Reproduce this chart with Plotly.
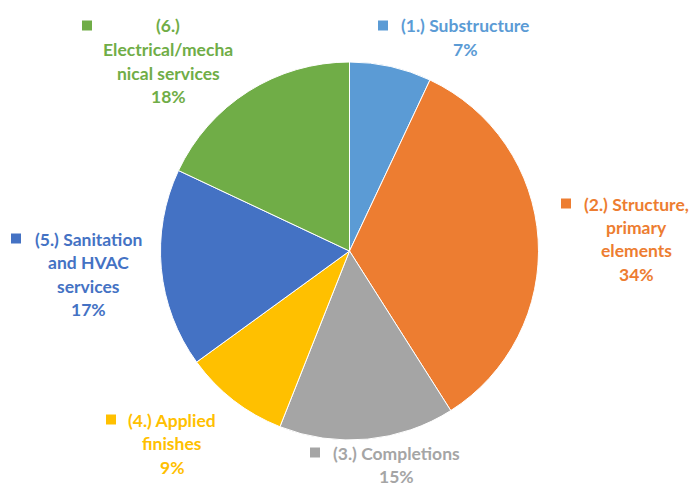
import plotly.graph_objects as go

# Cost share of building elements
categories = [
    "(1.) Substructure",
    "(2.) Structure, primary elements",
    "(3.) Completions",
    "(4.) Applied finishes",
    "(5.) Sanitation and HVAC services",
    "(6.) Electrical/mechanical services",
]
values = [7, 34, 15, 9, 17, 18]
colors = ["#5B9BD5", "#ED7D31", "#A5A5A5", "#FFC000", "#4472C4", "#70AD47"]

# Wrapped label text for each slice (percentage line is appended from values)
label_lines = [
    ["(1.) Substructure"],
    ["(2.) Structure,", "primary", "elements"],
    ["(3.) Completions"],
    ["(4.) Applied", "finishes"],
    ["(5.) Sanitation", "and HVAC", "services"],
    ["(6.)", "Electrical/mecha", "nical services"],
]

W, H = 694, 483
FONT = "Lato, 'Open Sans', sans-serif"
FS = 17.5
LINE_GAP = 23.5

# label placement in pixels: text centre x, first line y, marker centre x
label_pos = [
    (465, 26, 383),
    (636, 204, 566),
    (396, 453, 315),
    (172, 420, 111),
    (88, 239, 16),
    (168, 26, 87),
]

# pie geometry in pixels
cx, cy, r = 349.5, 251, 189


def px(x):
    return x / W


def py(y):
    return 1 - y / H


fig = go.Figure(
    go.Pie(
        labels=categories,
        values=values,
        sort=False,
        direction="clockwise",
        rotation=0,
        marker=dict(colors=colors, line=dict(color="white", width=1)),
        textinfo="none",
        hoverinfo="label+percent",
        showlegend=False,
        domain=dict(x=[px(cx - r), px(cx + r)], y=[py(cy + r), py(cy - r)]),
    )
)

total = sum(values)
annotations = []
shapes = []
for lines, v, col, (tx, ty, mx) in zip(label_lines, values, colors, label_pos):
    pct = f"{round(v / total * 100)}%"
    for k, line in enumerate(lines + [pct]):
        annotations.append(
            dict(
                x=px(tx), y=py(ty + k * LINE_GAP), xref="paper", yref="paper",
                text=f"<b>{line}</b>", showarrow=False,
                xanchor="center", yanchor="middle", borderpad=0,
                font=dict(family=FONT, size=FS, color=col),
            )
        )
    shapes.append(
        dict(
            type="rect", xref="paper", yref="paper",
            x0=px(mx - 5), x1=px(mx + 5), y0=py(ty - 5 - 0.5), y1=py(ty + 5 - 0.5),
            fillcolor=col, line=dict(width=0),
        )
    )

fig.update_layout(
    width=W, height=H,
    margin=dict(l=0, r=0, t=0, b=0),
    paper_bgcolor="white", plot_bgcolor="white",
    annotations=annotations, shapes=shapes,
)

fig.write_html("out.html")
